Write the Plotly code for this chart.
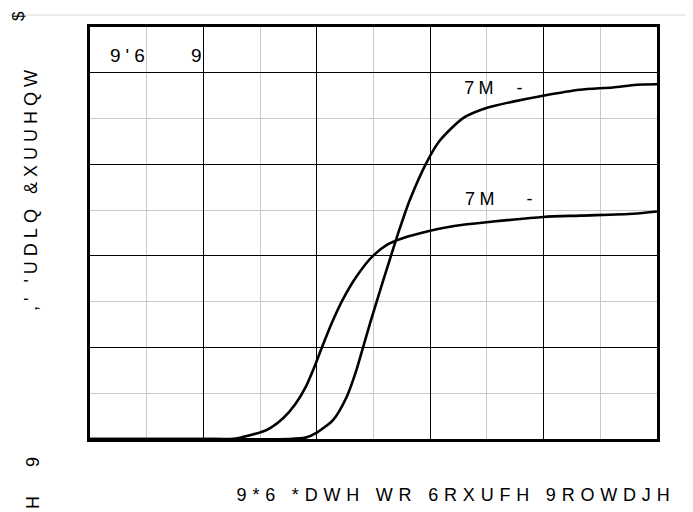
import plotly.graph_objects as go

# ---- data ----
vgs_a = [0, 2.0, 3.5, 3.8, 4.0, 4.29, 4.53, 4.70, 4.82, 4.94, 5.11, 5.29, 5.45, 5.64,
         5.94, 6.17, 6.58, 6.99, 7.46, 7.99, 8.64, 9.22, 9.64, 10.0]
id_a = [0, 0, 0, 0.03, 0.14, 0.42, 0.93, 1.51, 2.02, 2.53, 3.22, 3.93, 4.55, 5.22,
        6.05, 6.52, 7.01, 7.23, 7.37, 7.50, 7.63, 7.68, 7.74, 7.75]

vgs_b = [0, 2.0, 2.52, 2.82, 3.12, 3.41, 3.62, 3.81, 3.95, 4.09, 4.27, 4.46, 4.70,
         4.99, 5.25, 5.50, 6.00, 6.58, 7.11, 7.99, 8.64, 9.58, 10.0]
id_b = [0, 0, 0.0, 0.08, 0.20, 0.46, 0.76, 1.15, 1.55, 2.00, 2.55, 3.05, 3.55,
        4.00, 4.25, 4.38, 4.55, 4.68, 4.75, 4.85, 4.88, 4.92, 4.97]

x_title = "9*6 *DWH WR 6RXUFH 9ROWDJH"
y_title = ",' 'UDLQ &XUUHQW"
cond_label = "9'6    9"
label_a = "7M  -"
label_b = "7M   -"

FONT = "Arial, Liberation Sans, sans-serif"

fig = go.Figure()
for xs, ys in ((vgs_a, id_a), (vgs_b, id_b)):
    fig.add_trace(go.Scatter(x=xs, y=ys, mode="lines",
                             line=dict(color="black", width=2.6, shape="spline", smoothing=0.7),
                             showlegend=False, hoverinfo="skip"))

OFF = 8  # page body margin
W, H = 693 - OFF, 512 - OFF
L, R, T, B = 90 - OFF, 36, 27 - OFF, 73
pw, ph = W - L - R, H - T - B


def px(x):
    """reference page pixel x -> paper coordinate"""
    return (x - OFF - L) / pw


def py(y):
    """reference page pixel y -> paper coordinate"""
    return (H - B - (y - OFF)) / ph


axis_common = dict(showticklabels=False, ticks="", zeroline=False,
                   showline=True, linecolor="black", mirror=True,
                   showgrid=True, gridcolor="black", gridwidth=1.3,
                   minor=dict(showgrid=True, gridcolor="#c8c8c8", gridwidth=1.3, dtick=1))
fig.update_xaxes(range=[0, 10], dtick=2, linewidth=3, **axis_common)
fig.update_yaxes(range=[0, 9], dtick=2, linewidth=3, **axis_common)

ann = []
txt = dict(color="black", family=FONT)
ann.append(dict(x=px(158), y=py(56), text=cond_label, font=dict(size=19, **txt)))
ann.append(dict(x=px(495), y=py(88), text=label_a, font=dict(size=18, **txt)))
ann.append(dict(x=px(501), y=py(199), text=label_b, font=dict(size=18, **txt)))
ann.append(dict(x=px(456), y=py(495), text=x_title, font=dict(size=18, **txt)))
ann.append(dict(x=px(31), y=py(188), text=y_title, textangle=-90, font=dict(size=18, **txt)))
ann.append(dict(x=px(19), y=py(16), text="$", textangle=-90, font=dict(size=17, **txt)))
ann.append(dict(x=px(33), y=py(462), text="9", textangle=-90, font=dict(size=18, **txt)))
ann.append(dict(x=px(33), y=py(503), text="H", textangle=-90, font=dict(size=18, **txt)))
for a in ann:
    a.update(xref="paper", yref="paper", showarrow=False, xanchor="center", yanchor="middle")

fig.update_layout(
    width=W, height=H, margin=dict(l=L, r=R, t=T, b=B),
    paper_bgcolor="white", plot_bgcolor="white",
    annotations=ann,
    shapes=[dict(type="rect", xref="paper", yref="paper",
                 x0=px(7), x1=px(687), y0=py(540), y1=py(15),
                 line=dict(color="#d9d9d9", width=1), layer="below")],
)

post = """
var sp = {0: '5px', 1: '4.3px', 2: '4.3px', 3: '5.8px', 4: '5px'};
var gd = document.getElementById('{plot_id}');
gd.querySelectorAll('g.annotation').forEach(function(g){
  var i = g.getAttribute('data-index');
  var t = g.querySelector('text.annotation-text');
  if (t && sp[i] !== undefined) { t.style.letterSpacing = sp[i]; }
});
"""
fig.write_html("out.html", post_script=post)
